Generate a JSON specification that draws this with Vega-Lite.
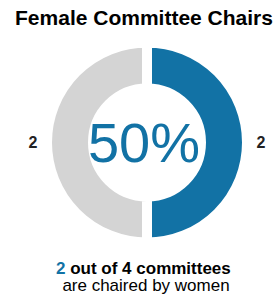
{
  "$schema": "https://vega.github.io/schema/vega-lite/v6.json",
  "width": 262,
  "height": 285,
  "autosize": {"type": "none"},
  "padding": {"left": 16, "top": 0, "right": 0, "bottom": 14},
  "background": "white",
  "config": {"view": {"stroke": null}, "font": "Liberation Sans"},
  "datasets": {
    "chairs": [
      {"group": "Women", "count": 2},
      {"group": "Men", "count": 2}
    ]
  },
  "layer": [
    {
      "data": {"name": "chairs"},
      "mark": {"type": "arc", "innerRadius": 54, "outerRadius": 100, "stroke": "white", "strokeWidth": 10},
      "encoding": {
        "theta": {"field": "count", "type": "quantitative", "stack": true},
        "color": {"field": "group", "type": "nominal", "scale": {"domain": ["Women", "Men"], "range": ["#1272a5", "#d4d4d4"]}, "legend": null},
        "order": {"field": "group", "type": "nominal", "sort": "descending"}
      }
    },
    {
      "data": {"name": "chairs"},
      "mark": {"type": "text", "radius": 114, "fontSize": 16, "fontWeight": "bold", "color": "#222222", "baseline": "middle", "align": "center"},
      "encoding": {
        "theta": {"field": "count", "type": "quantitative", "stack": true},
        "order": {"field": "group", "type": "nominal", "sort": "descending"},
        "text": {"field": "count", "type": "quantitative"}
      }
    },
    {
      "data": {"values": [{"t": "Female Committee Chairs"}]},
      "mark": {"type": "text", "fontSize": 21, "fontWeight": "bold", "color": "#000000", "align": "center", "baseline": "alphabetic", "dx": -3, "dy": -117.5},
      "encoding": {"text": {"field": "t", "type": "nominal"}}
    },
    {
      "data": {"values": [{"t": "50%"}]},
      "mark": {"type": "text", "fontSize": 56, "color": "#1272a5", "align": "center", "baseline": "alphabetic", "dx": -3, "dy": 19.5},
      "encoding": {"text": {"field": "t", "type": "nominal"}}
    },
    {
      "data": {"values": [{"t": "2"}]},
      "mark": {"type": "text", "fontSize": 17, "fontWeight": "bold", "color": "#1272a5", "align": "left", "baseline": "alphabetic", "dx": -91, "dy": 131},
      "encoding": {"text": {"field": "t", "type": "nominal"}}
    },
    {
      "data": {"values": [{"t": "out of 4 committees"}]},
      "mark": {"type": "text", "fontSize": 17, "fontWeight": "bold", "color": "#000000", "align": "left", "baseline": "alphabetic", "dx": -76.8, "dy": 131},
      "encoding": {"text": {"field": "t", "type": "nominal"}}
    },
    {
      "data": {"values": [{"t": "are chaired by women"}]},
      "mark": {"type": "text", "fontSize": 17, "color": "#000000", "align": "center", "baseline": "alphabetic", "dx": -1, "dy": 148.5},
      "encoding": {"text": {"field": "t", "type": "nominal"}}
    }
  ]
}
